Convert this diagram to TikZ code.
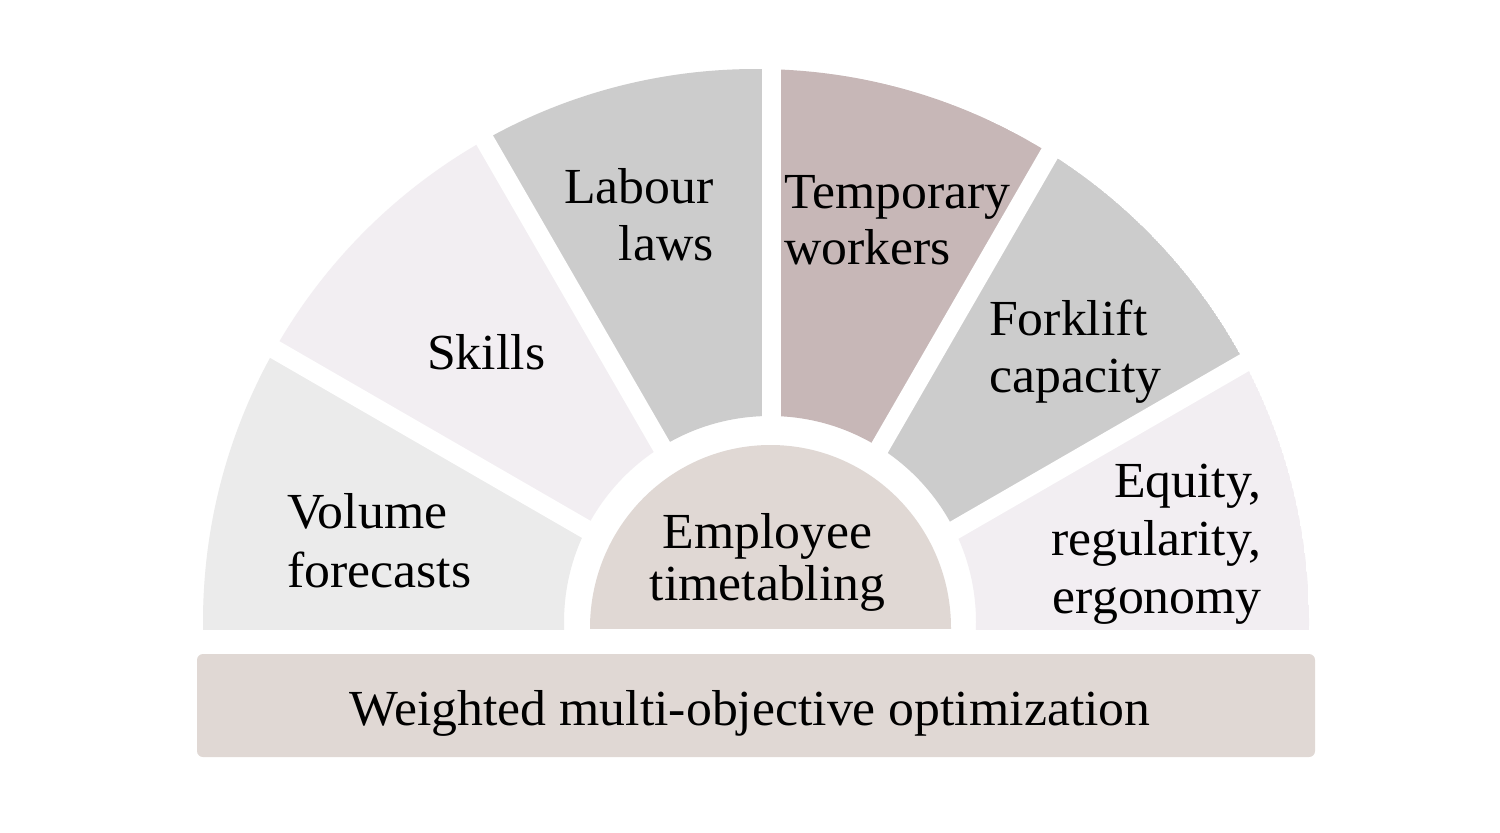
\documentclass[tikz,border=0pt]{standalone}
\usepackage{fontspec}
\setmainfont[FakeStretch=1.025]{Liberation Serif}
\usetikzlibrary{calc}
\definecolor{volcol}{HTML}{EBEBEB}
\definecolor{palecol}{HTML}{F2EEF2}
\definecolor{greycol}{HTML}{CCCCCC}
\definecolor{rosecol}{HTML}{C7B7B7}
\definecolor{corecol}{HTML}{E0D8D4}
\tikzset{
  lbl/.style={inner sep=0pt, font=\fontsize{50.5}{57}\selectfont, text=black},
  gapline/.style={draw=white, line width=19pt},
}
\begin{document}
\begin{tikzpicture}[x=1pt,y=-1pt]
\useasboundingbox (0,0) rectangle (1500,833);
\fill[white] (0,0) rectangle (1500,833);
\coordinate (C) at (771,636);
\coordinate (Oc) at (756,622);
\coordinate (Ic) at (770,622);
% sectors
\begin{scope}
  \clip (0,0) rectangle (1500,629);
  \clip (Oc) circle (553pt);
  \begin{scope}
    \clip (C) -- +(-150:1300) -- +(-170:1300) -- +(-195:1300) -- cycle;
    \fill[volcol, even odd rule] (Oc) circle (553pt) (Ic) circle (206pt);
  \end{scope}
  \begin{scope}
    \clip (C) -- +(-120:1300) -- +(-135:1300) -- +(-150:1300) -- cycle;
    \fill[palecol, even odd rule] (Oc) circle (553pt) (Ic) circle (206pt);
  \end{scope}
  \begin{scope}
    \clip (C) -- +(-90:1300) -- +(-105:1300) -- +(-120:1300) -- cycle;
    \fill[greycol, even odd rule] (Oc) circle (553pt) (Ic) circle (206pt);
  \end{scope}
  \begin{scope}
    \clip (C) -- +(-60:1300) -- +(-75:1300) -- +(-90:1300) -- cycle;
    \fill[rosecol, even odd rule] (Oc) circle (553pt) (Ic) circle (206pt);
  \end{scope}
  \begin{scope}
    \clip (C) -- +(-30:1300) -- +(-45:1300) -- +(-60:1300) -- cycle;
    \fill[greycol, even odd rule] (Oc) circle (553pt) (Ic) circle (206pt);
  \end{scope}
  \begin{scope}
    \clip (C) -- +(15:1300) -- +(-10:1300) -- +(-30:1300) -- cycle;
    \fill[palecol, even odd rule] (Oc) circle (553pt) (Ic) circle (206pt);
  \end{scope}
\end{scope}
% gaps
\foreach \a in {30,60,90,120,150} {
  \draw[gapline] (C) -- +(-\a:700);
}
% core half disc
\begin{scope}
  \clip (0,0) rectangle (1500,628);
  \fill[corecol] (770.5,628) ellipse [x radius=180.5pt, y radius=183pt];
\end{scope}
% bottom bar
\fill[corecol, rounded corners=6pt] (197,654) rectangle (1315,757);
% labels
\node[lbl, anchor=base west] (vol1) at (287,528) {Volume};
\node[lbl, anchor=base west] (vol2) at (287,587) {forecasts};
\node[lbl, anchor=base west] (skills) at (427,369) {Skills};
\node[lbl, anchor=base east] (lab1) at (714,203) {Labour};
\node[lbl, anchor=base east] (lab2) at (714,260) {laws};
\node[lbl, anchor=base west] (tmp1) at (784,208) {Temporary};
\node[lbl, anchor=base west] (tmp2) at (784,264) {workers};
\node[lbl, anchor=base west] (fork1) at (989,335) {Forklift};
\node[lbl, anchor=base west] (fork2) at (989,392) {capacity};
\node[lbl, anchor=base east] (eq1) at (1262,497) {Equity,};
\node[lbl, anchor=base east] (eq2) at (1262,555) {regularity,};
\node[lbl, anchor=base east] (eq3) at (1262,613) {ergonomy};
\node[lbl, anchor=base] (emp1) at (767.5,548) {Employee};
\node[lbl, anchor=base] (emp2) at (767.5,600) {timetabling};
\node[lbl, anchor=base] (opt) at (750,725) {Weighted multi-objective optimization};
\end{tikzpicture}
\end{document}
